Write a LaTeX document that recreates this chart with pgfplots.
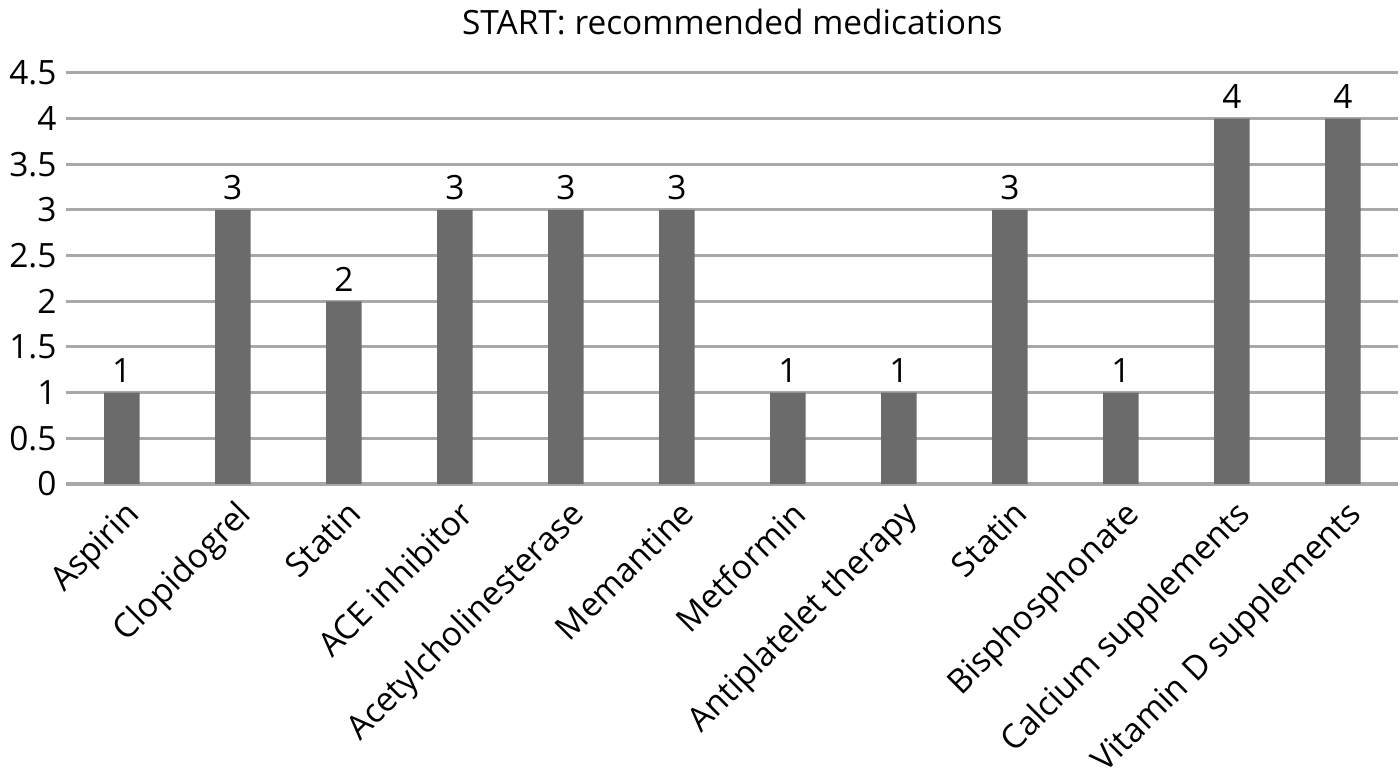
\documentclass[border=0pt]{standalone}
\usepackage{pgfplots}
\pgfplotsset{compat=1.18}
\usepackage{fontspec}
\setmainfont{Open Sans}
\definecolor{barc}{HTML}{6B6B6B}
\definecolor{gridc}{HTML}{A8A8A8}
\begin{document}
\begin{tikzpicture}
\begin{axis}[
  scale only axis,
  width=478pt, height=147.5pt,
  xmin=-0.5, xmax=11.5,
  ymin=0, ymax=4.5,
  ytick={0,0.5,...,4.5},
  xtick=data,
  xticklabels={Aspirin, Clopidogrel, Statin, ACE inhibitor, Acetylcholinesterase, Memantine, Metformin, Antiplatelet therapy, Statin, Bisphosphonate, Calcium supplements, Vitamin D supplements},
  xticklabel style={rotate=45, anchor=north east, inner sep=1pt, yshift=-3pt, xshift=-2pt},
  ymajorgrids,
  grid style={gridc, line width=1.1pt},
  axis line style={draw=none},
  major tick length=0,
  ybar, bar width=0.32,
  nodes near coords,
  nodes near coords style={font=\fontsize{12}{14}\selectfont, black},
  every tick label/.append style={font=\fontsize{12}{14}\selectfont, black},
  /pgf/number format/assume math mode=true,
  title={START: recommended medications},
  title style={font=\fontsize{12}{14}\selectfont, yshift=4pt},
]
\addplot[fill=barc, draw=none] coordinates {
(0,1) (1,3) (2,2) (3,3) (4,3) (5,3) (6,1) (7,1) (8,3) (9,1) (10,4) (11,4)};
\end{axis}
\end{tikzpicture}
\end{document}
